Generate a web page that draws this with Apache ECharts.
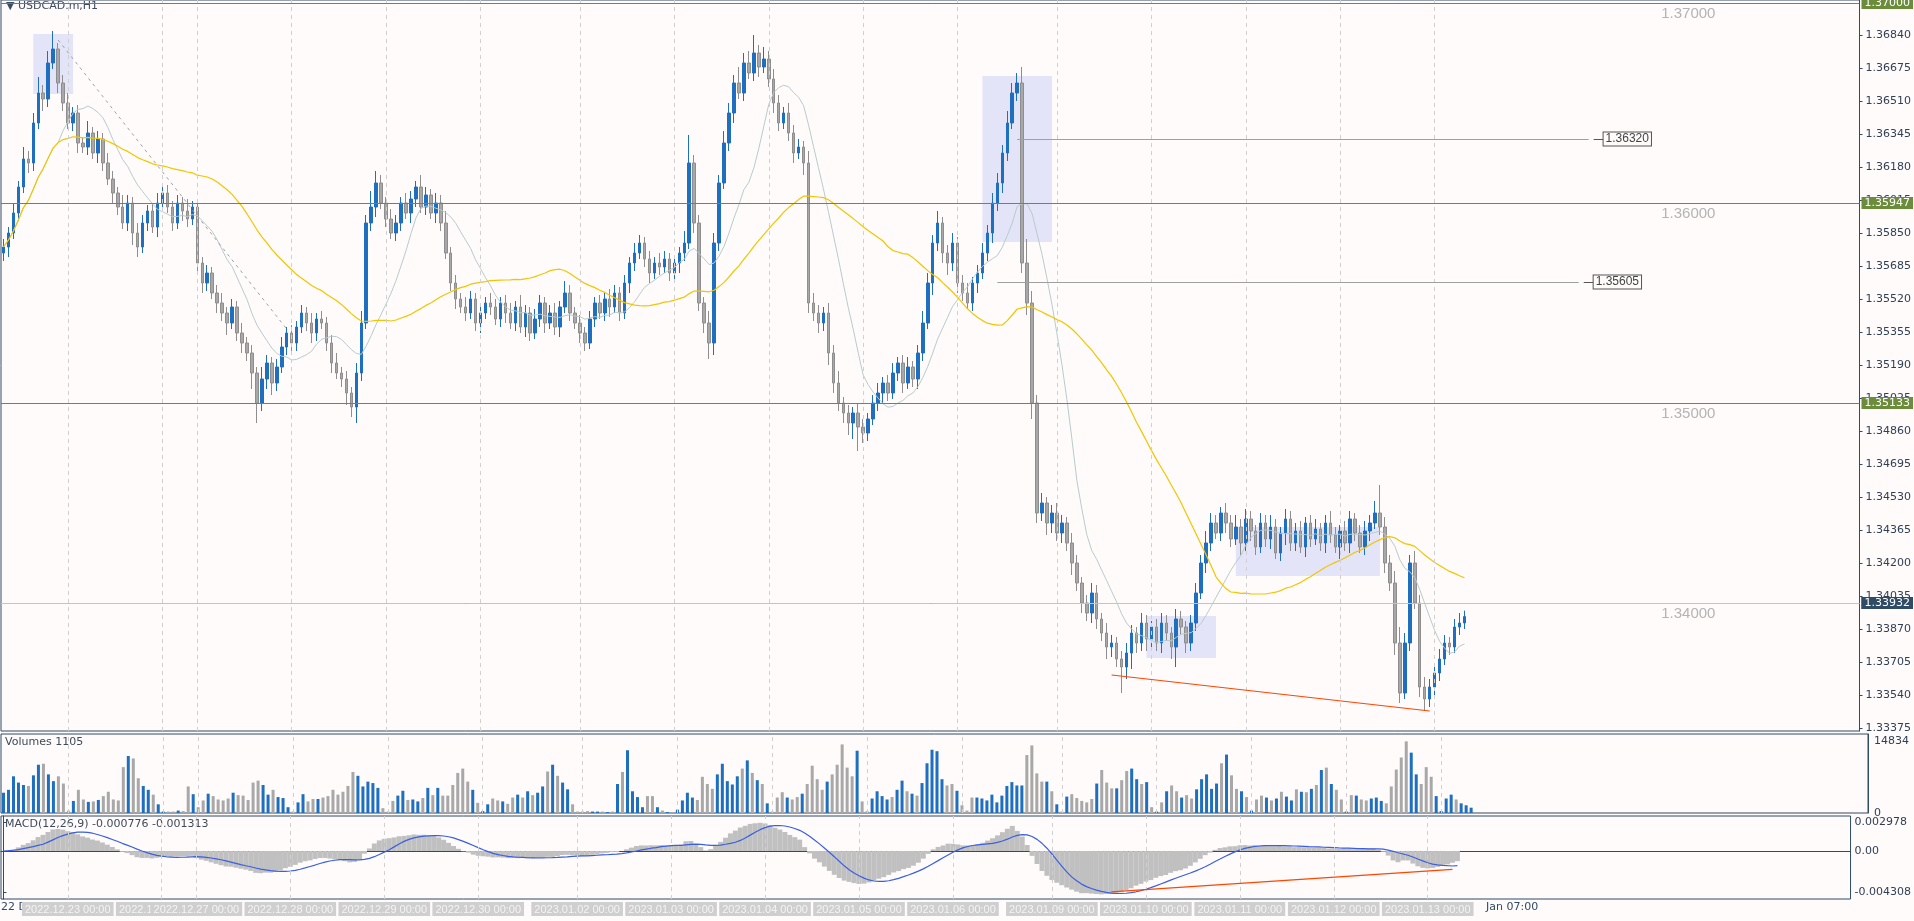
<!DOCTYPE html>
<html><head><meta charset="utf-8">
<script src="https://cdn.jsdelivr.net/npm/echarts@6/dist/echarts.min.js"></script>
<style>html,body{margin:0;padding:0;background:#fffbfa}#c{width:1914px;height:921px}</style>
</head><body><div id="c"></div>
<script>
const closes = [
1.3578,1.3585,1.3595,1.3608,1.3622,1.3620,1.3640,1.3655,1.3652,1.3670,1.3677,1.3660,1.3650,1.3640,1.3645,1.3630,1.3628,1.3635,1.3625,1.3632,
1.3620,1.3612,1.3605,1.3598,1.3590,1.3600,1.3585,1.3578,1.3590,1.3596,1.3588,1.3600,1.3605,1.3598,1.3590,1.3600,1.3596,1.3592,1.3598,1.3570,
1.3560,1.3565,1.3555,1.3550,1.3545,1.3540,1.3548,1.3535,1.3530,1.3525,1.3515,1.3500,1.3512,1.3520,1.3510,1.3518,1.3528,1.3535,1.3530,1.3538,
1.3545,1.3540,1.3535,1.3542,1.3540,1.3530,1.3520,1.3515,1.3512,1.3505,1.3498,1.3515,1.3540,1.3590,1.3598,1.3610,1.3600,1.3592,1.3585,1.3590,
1.3600,1.3595,1.3602,1.3608,1.3598,1.3604,1.3595,1.3600,1.3590,1.3575,1.3560,1.3552,1.3548,1.3545,1.3552,1.3540,1.3545,1.3550,1.3548,1.3542,
1.3550,1.3545,1.3540,1.3548,1.3538,1.3545,1.3535,1.3542,1.3550,1.3540,1.3545,1.3538,1.3548,1.3555,1.3545,1.3540,1.3535,1.3530,1.3542,1.3550,
1.3545,1.3552,1.3548,1.3555,1.3545,1.3560,1.3570,1.3575,1.3580,1.3572,1.3565,1.3570,1.3568,1.3572,1.3565,1.3570,1.3575,1.3580,1.3620,1.3590,
1.3550,1.3540,1.3530,1.3580,1.3610,1.3630,1.3645,1.3660,1.3655,1.3670,1.3665,1.3675,1.3668,1.3672,1.3662,1.3650,1.3640,1.3645,1.3635,1.3625,
1.3628,1.3620,1.3550,1.3545,1.3540,1.3545,1.3525,1.3510,1.3500,1.3495,1.3490,1.3495,1.3488,1.3485,1.3492,1.3500,1.3505,1.3510,1.3505,1.3515,
1.3520,1.3510,1.3518,1.3512,1.3525,1.3540,1.3560,1.3580,1.3590,1.3575,1.3570,1.3580,1.3560,1.3555,1.3550,1.3560,1.3565,1.3575,1.3585,1.3600,
1.3610,1.3625,1.3640,1.3655,1.3660,1.3570,1.3550,1.3500,1.3445,1.3450,1.3440,1.3445,1.3435,1.3440,1.3430,1.3420,1.3410,1.3400,1.3395,1.3405,
1.3392,1.3385,1.3378,1.3380,1.3372,1.3368,1.3375,1.3385,1.3380,1.3390,1.3382,1.3388,1.3380,1.3390,1.3385,1.3378,1.3392,1.3388,1.3380,1.3390,
1.3405,1.3420,1.3430,1.3440,1.3435,1.3445,1.3440,1.3432,1.3438,1.3430,1.3442,1.3436,1.3428,1.3440,1.3432,1.3438,1.3425,1.3435,1.3442,1.3430,
1.3436,1.3428,1.3440,1.3432,1.3437,1.3430,1.3440,1.3434,1.3428,1.3436,1.3430,1.3442,1.3435,1.3428,1.3436,1.3440,1.3445,1.3438,1.3420,1.3410,
1.3380,1.3355,1.3380,1.3420,1.3400,1.3358,1.3352,1.3358,1.3365,1.3372,1.3380,1.3378,1.3388,1.3390,1.33932];
const firstOpen = 1.3575;
const upWick = [
4,3,5,3,6,4,5,8,4,6,9,3,4,5,3,4,3,6,3,4, 3,5,4,3,6,4,3,5,4,3,4,5,3,4,3,4,3,6,3,4,
3,4,3,4,5,3,4,3,5,3,4,3,6,4,3,4,5,3,4,3, 4,3,5,3,4,3,4,5,3,4,3,5,6,4,8,6,4,3,5,4,
3,5,4,3,6,4,3,5,4,6,3,4,3,5,4,3,4,3,5,4, 3,4,5,3,6,4,3,5,4,3,4,5,3,6,4,3,4,3,4,3,
4,3,5,4,3,4,3,5,4,3,4,3,5,4,3,4,3,6,14,4, 4,3,6,5,4,6,5,4,8,5,6,9,4,6,4,5,4,3,5,4,
4,3,6,5,4,3,5,4,6,3,4,3,5,4,3,4,5,3,4,5, 3,4,5,3,4,6,5,4,6,3,4,5,3,4,5,3,4,5,4,5,
5,4,6,5,5,8,12,6,4,5,3,4,5,4,3,5,4,3,4,5, 4,3,5,4,3,4,5,4,3,5,4,3,4,5,4,3,5,4,3,4,
5,4,6,5,4,3,5,4,6,4,5,4,3,5,4,6,4,3,5,4, 4,5,3,4,5,3,4,6,4,3,5,4,3,4,5,4,6,14,5,4,
6,8,5,4,6,4,5,4,3,5,4,3,4,5,3];
const dnWick = [
4,5,3,4,3,5,4,3,6,4,3,5,4,3,4,5,3,4,3,5, 4,3,5,4,3,4,6,5,3,4,3,5,4,3,4,3,5,4,3,4,
5,4,3,5,4,6,3,4,5,4,8,10,4,5,6,4,3,4,5,4, 3,4,5,4,3,4,5,3,4,6,5,8,4,3,4,5,3,4,3,4,
4,3,5,4,3,4,3,5,4,3,4,5,3,4,3,4,5,3,4,3, 4,5,3,4,3,5,4,3,4,5,3,4,5,3,4,3,5,4,3,4,
3,4,5,3,4,3,5,4,3,4,5,3,4,3,4,3,5,4,3,5, 4,5,8,6,4,3,4,5,3,4,3,4,5,3,4,5,4,3,4,5,
3,6,5,4,5,4,6,5,4,5,6,8,12,5,4,3,4,5,4,3, 4,5,3,4,5,4,3,6,4,5,6,4,5,4,3,4,5,3,4,5,
4,5,4,3,4,5,6,8,5,4,6,5,4,5,4,6,4,5,4,5, 5,4,6,5,4,13,6,8,5,4,6,5,4,5,4,6,10,4,5,4,
4,3,5,4,3,4,5,4,3,6,4,5,4,3,4,5,3,4,6,4, 4,3,5,4,3,4,5,4,3,6,4,5,4,3,4,5,3,4,5,4,
6,5,3,4,3,5,6,4,5,4,3,4,3,4,3];
const volumes = [
4200,4800,7600,6300,5800,5600,7800,10000,10200,8000,6600,7600,6100, 500,
2500,4800,2800,2300,2400,2700,3500,4400,2800,2600,9500,11800,11300,7200,5600,4800,3800,1800,
300,300,300,500,400,5500,3900,
1200,2600,4000,3500,2800,2600,3000,4200,3700,3600,2700,6300,6700,5800,3800,4800,3300,3100,1200, 300,
2200,3900,2400,2900,2900,3200,3500,4800,3800,4400,5600,8500,7700,5500,6500,6200,5200,1000, 300,
2500,3600,4600,2700,2800,2400,3100,5200,3700,5200,3600,3600,5800,8300,9200,6500,4800,2100, 400,
1800,3000,2600,2400,1900,3200,3800,3200,4500,3700,4200,5500,8600,10000,7700,6300,4900,1800,
300,300,400,300,300,300,200,300,6000,8500,13000,4500,3300,1200,3500,3500,1200,500,200,200,
700,2600,4200,3200,2700,7500,6000,5000,8000,10200,6600,5900,7600,9200,10900,8300,6800,6000,2000, 300,
3200,4300,3200,2800,3300,4000,6000,9800,7000,4800,6500,8000,10000,14200,9400,7600,12900,2400, 400,
3000,4500,3500,2800,3300,4800,6700,4500,4000,3600,6200,10300,13100,12800,7000,5700,6000,4600,1600, 500,
3200,3200,3000,2600,3800,2200,3600,5600,6400,5700,5700,12000,14000,8200,6500,6500,4500,1800, 300,
3400,3900,3100,2500,2200,2900,6100,8900,6300,5100,5100,6800,8700,9200,7000,6000,6400,1200, 300,
2200,4500,5700,4500,3200,3700,3000,4900,7000,8000,5000,6100,10300,12100,7800,5000,4500,3300, 500,
2800,3600,3200,2600,3000,4400,3400,2600,4900,4400,4300,5000,5800,8900,9400,6000,4800,2800, 300,
3700,3600,2800,2600,3000,3200,2500,2000,5500,9000,11500,14834,12500,8000,6000,9500,7500,3500, 400,
3000,3800,2800,2000,1600,1100];
const priceTicks = [1.36840,1.36675,1.36510,1.36345,1.36180,1.36015,1.35850,1.35685,1.35520,1.35355,1.35190,1.35025,1.34860,1.34695,1.34530,1.34365,1.34200,1.34035,1.33870,1.33705,1.33540,1.33375];
const greenLevels = [1.37000,1.35947,1.35133,1.34392,1.33629];
const roundLevels = [1.37000,1.36000,1.35000,1.34000];
const currentPrice = 1.33932;
const boxLevels = [[1.36320,204,319],[1.35605,200,317]];
const vLineIdx = [13,32,39,58,77,96,116,135,154,173,192,212,231,250,269,288];
const vLineLabels = ['2022.12.23 00:00','2022.12.26 00:00','2022.12.27 00:00','2022.12.28 00:00','2022.12.29 00:00','2022.12.30 00:00','2023.01.02 00:00','2023.01.03 00:00','2023.01.04 00:00','2023.01.05 00:00','2023.01.06 00:00','2023.01.09 00:00','2023.01.10 00:00','2023.01.11 00:00','2023.01.12 00:00','2023.01.13 00:00'];
const macdTicks = [0.002978,0,-0.004308];
const macdTickText = ['0.002978','0.00','-0.004308'];
const rects = [[6,14,1.36845,1.36545],[197,211,1.36635,1.35805],[230,244,1.33935,1.33725],[248,277,1.34380,1.34135]];

const NCAT = 374, N = closes.length;
const cats = Array.from({length:NCAT},(_,i)=>String(i));
const opens = closes.map((c,i)=> i===0?firstOpen:closes[i-1]);
const ohlc = closes.map((c,i)=>{const o=opens[i];return [o,c,+(Math.min(o,c)-dnWick[i]*0.0001).toFixed(5),+(Math.max(o,c)+upWick[i]*0.0001).toFixed(5)];});
function sma(a,n){return a.map((v,i)=>{const s=Math.max(0,i-n+1);let t=0;for(let k=s;k<=i;k++)t+=a[k];return +(t/(i-s+1)).toFixed(5);});}
function ema(a,n){const al=2/(n+1);let e=a[0];return a.map(v=>{e=e+al*(v-e);return e;});}
const e12=ema(closes,12),e26=ema(closes,26);
const macd=closes.map((c,i)=>e12[i]-e26[i]);
const signal=sma(macd,9);
const volData=volumes.map((v,i)=>({value:v,itemStyle:{color:closes[i]>=opens[i]?'#1e6fbf':'#a8a8a8'}}));
const GREEN='#6b8c3a';
const dashStyle={color:'#d0d0d0',type:[4,4],width:1};

const lvlMarks = [];
greenLevels.forEach(p=>lvlMarks.push({yAxis:p,lineStyle:{color:GREEN,width:1.2,type:'solid'},label:{show:true,position:'end',formatter:p.toFixed(5),backgroundColor:GREEN,color:'#fff',padding:[1,3,0,3],fontSize:11,distance:2,fontFamily:'DejaVu Sans'}}));
lvlMarks.push({yAxis:currentPrice,lineStyle:{color:'#c4c4c4',width:1,type:'solid'},label:{show:true,position:'end',formatter:currentPrice.toFixed(5),backgroundColor:'#2f4b66',color:'#fff',padding:[1,3,0,3],fontSize:11,distance:2,fontFamily:'DejaVu Sans'}});
const mainMarks = vLineIdx.map(v=>({xAxis:v,lineStyle:dashStyle,label:{show:false}}));
const segs = [];
roundLevels.forEach(p=>segs.push([{coord:[334,p]},{coord:[373,p],lineStyle:{color:'#aaaaaa',width:1,type:'solid'},label:{show:true,position:'insideStartBottom',formatter:p.toFixed(5),color:'#b4b4b4',fontSize:15,distance:[-2,3],fontFamily:'Liberation Sans'}}]));
boxLevels.forEach(b=>{
  segs.push([{coord:[b[1],b[0]]},{coord:[b[2],b[0]],lineStyle:{color:'#a0a0a0',width:1,type:'solid'},label:{show:false}}]);
  segs.push([{coord:[b[2]+1,b[0]]},{coord:[b[2]+3,b[0]],lineStyle:{color:'#555',width:1,type:'solid'},label:{show:true,position:'end',distance:0,formatter:b[0].toFixed(5),color:'#444',fontSize:12,borderColor:'#555',borderWidth:1,padding:[1,2,0,2],backgroundColor:'#fffbfa',fontFamily:'Liberation Sans'}}]);
});
segs.push([{coord:[11,1.36815]},{coord:[57,1.3537],lineStyle:{color:'#a0a0a0',width:1,type:[3,4]},label:{show:false}}]);
segs.push([{coord:[223,1.3364]},{coord:[287,1.3346],lineStyle:{color:'#ff4500',width:1.2,type:'solid'},label:{show:false}}]);

const catAxes=[0,1,2].map(g=>({type:'category',gridIndex:g,data:cats,boundaryGap:true,
    axisLine:{show:g===2,lineStyle:{color:'#2f4b66'}},axisTick:{show:false},splitLine:{show:false},axisLabel:{show:false}}));
catAxes.push({type:'value',gridIndex:2,position:'bottom',min:-0.5,max:NCAT-0.5,splitLine:{show:false},
  axisLine:{show:false},axisTick:{show:false},
  axisLabel:{customValues:vLineIdx,formatter:v=>{const k=vLineIdx.indexOf(Math.round(v));return k>=0?vLineLabels[k]:'';},
    backgroundColor:'#cfcfcf',color:'#f4f4f4',padding:[2,3,1,3],fontSize:11,margin:3,fontFamily:'Liberation Sans'}});

const option = {
  animation:false, backgroundColor:'#fffbfa',
  grid:[
    {left:1,top:0,width:1867,height:731,show:true,borderColor:'#2f4b66',borderWidth:1,backgroundColor:'transparent'},
    {left:1,top:734,width:1867,height:79,show:true,borderColor:'#2f4b66',borderWidth:1},
    {left:1,top:816,width:1867,height:83,show:true,borderColor:'#2f4b66',borderWidth:1}
  ],
  xAxis:catAxes,
  yAxis:[
    {type:'value',gridIndex:0,position:'right',min:1.3336,max:1.37015,scale:true,splitLine:{show:false},z:0,
     axisLine:{show:true,lineStyle:{color:'#2f4b66'}},
     axisTick:{show:true,length:3,customValues:priceTicks,lineStyle:{color:'#2f4b66'}},
     axisLabel:{customValues:priceTicks,formatter:v=>v.toFixed(5),color:'#2f3f55',fontSize:11,margin:6,fontFamily:'DejaVu Sans'}},
    {type:'value',gridIndex:1,position:'right',min:0,max:16360,splitLine:{show:false},
     axisLine:{show:true,lineStyle:{color:'#2f4b66'}},axisTick:{show:false},
     axisLabel:{customValues:[0,14834],formatter:v=>String(v),color:'#2f3f55',fontSize:11,margin:6,fontFamily:'DejaVu Sans'}},
    {type:'value',gridIndex:2,position:'right',min:-0.00499,max:0.00364,splitLine:{show:false},
     axisLine:{show:true,lineStyle:{color:'#2f4b66'}},
     axisTick:{show:true,length:3,customValues:macdTicks},
     axisLabel:{customValues:macdTicks,formatter:v=>{const k=macdTicks.findIndex(t=>Math.abs(t-v)<1e-7);return k>=0?macdTickText[k]:'';},color:'#2f3f55',fontSize:11,margin:4,fontFamily:'DejaVu Sans'}}
  ],
  series:[
    {type:'candlestick',xAxisIndex:0,yAxisIndex:0,data:ohlc,barWidth:3,
     itemStyle:{color:'#1e6fbf',color0:'#a8a8a8',borderColor:'#1e6fbf',borderColor0:'#8e8e8e',borderWidth:1},
     markLine:{symbol:'none',silent:true,data:mainMarks.concat(segs),animation:false},
     markArea:{silent:true,itemStyle:{color:'rgba(200,205,245,0.5)'},data:rects.map(r=>[{coord:[r[0],r[2]]},{coord:[r[1],r[3]]}])}},
    {type:'line',xAxisIndex:0,yAxisIndex:0,data:sma(closes,12),symbol:'none',lineStyle:{color:'#b7cccc',width:1},z:3},
    {type:'line',xAxisIndex:0,yAxisIndex:0,data:sma(closes,40),symbol:'none',lineStyle:{color:'#f2c500',width:1.2},z:3},
    {type:'line',xAxisIndex:0,yAxisIndex:0,data:[],zlevel:1,markLine:{symbol:'none',silent:true,data:lvlMarks,animation:false}},
    {type:'bar',xAxisIndex:1,yAxisIndex:1,data:volData,barWidth:3,
     markLine:{symbol:'none',silent:true,data:vLineIdx.map(v=>({xAxis:v,lineStyle:dashStyle,label:{show:false}}))}},
    {type:'bar',xAxisIndex:2,yAxisIndex:2,data:macd.map(v=>+v.toFixed(6)),barWidth:5,itemStyle:{color:'#c0c0c0'},
     markLine:{symbol:'none',silent:true,data:vLineIdx.map(v=>({xAxis:v,lineStyle:dashStyle,label:{show:false}})).concat([[{coord:[224,-0.00425]},{coord:[293,-0.0019],lineStyle:{color:'#ff4500',width:1.2,type:'solid'},label:{show:false}}]])}},
    {type:'line',xAxisIndex:2,yAxisIndex:2,data:signal.map(v=>+v.toFixed(6)),symbol:'none',lineStyle:{color:'#3a5fe0',width:1.2},z:4}
  ],
  graphic:[
    {type:'text',left:6,top:1,style:{text:'▼ USDCAD.m,H1',fill:'#3c4c64',font:'11px "DejaVu Sans"'}},
    {type:'text',left:5,top:737,style:{text:'Volumes 1105',fill:'#3c4c5c',font:'11px "DejaVu Sans"'}},
    {type:'text',left:5,top:819,style:{text:'MACD(12,26,9) -0.000776 -0.001313',fill:'#3c4c5c',font:'11px "DejaVu Sans"'}},
    {type:'text',left:1,top:902,style:{text:'22 Dec',fill:'#2f4b66',font:'11px "DejaVu Sans"'}},
    {type:'text',left:1486,top:902,style:{text:'Jan 07:00',fill:'#2f4b66',font:'11px "DejaVu Sans"'}}
  ]
};
echarts.init(document.getElementById('c')).setOption(option);
</script></body></html>
